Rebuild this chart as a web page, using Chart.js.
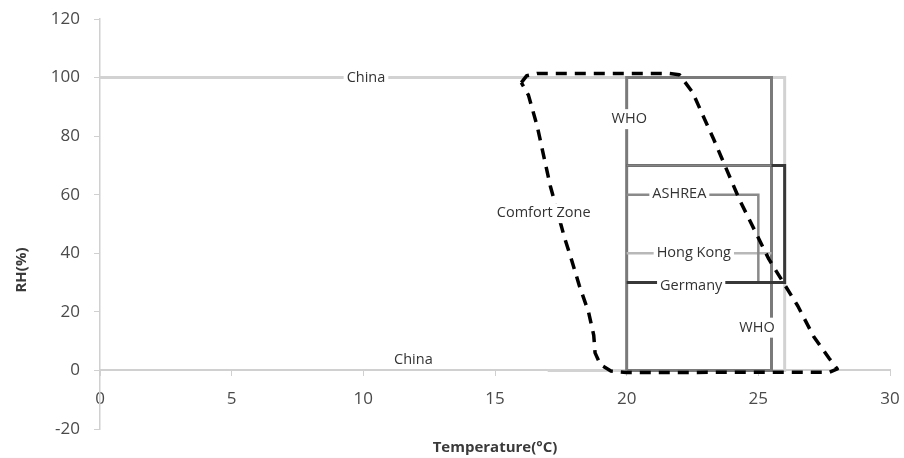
<!DOCTYPE html>
<html>
<head>
<meta charset="utf-8">
<script src="https://cdn.jsdelivr.net/npm/chart.js@4.4.1/dist/chart.umd.min.js"></script>
<style>
  html, body { margin: 0; padding: 0; background: #ffffff; }
  #wrap { width: 904px; height: 458px; position: relative; }
</style>
</head>
<body>
<div id="wrap"><canvas id="c"></canvas></div>
<script>
// ---- Data (temperature °C, relative humidity %) ----
const xTickValues = [0, 5, 10, 15, 20, 25, 30];
const yTickValues = [-20, 0, 20, 40, 60, 80, 100, 120];

const comfortT  = [16.0, 16.2, 16.6, 21.6, 22.0, 22.5, 23.3, 24.3, 25.4, 26.5, 27.1, 27.7, 28.0, 27.7, 20.0, 19.4, 19.0, 18.8, 18.75, 18.55, 18.2, 17.9, 17.65, 17.1, 16.6, 16.27, 16.0];
const comfortRH = [98.3, 100.6, 101.4, 101.4, 101, 95, 79, 58, 38, 22, 11.6, 4, 0.5, -0.6, -0.7, -0.2, 2, 6, 12, 20, 29, 38, 45, 63, 83.5, 94, 98.3];

const chinaT  = [0, 26, 26, 17];
const chinaRH = [100, 100, 0, 0];

const whoT  = [20, 20, 25.5, 25.5, 20];
const whoRH = [0, 100, 100, 0, 0];

const who70T  = [20, 25.5];
const who70RH = [70, 70];

const germanyT  = [20, 26, 26, 20];
const germanyRH = [30, 30, 70, 70];

const ashreaT  = [20, 25, 25];
const ashreaRH = [60, 60, 30];

const hongKongT  = [20, 25.5];
const hongKongRH = [40, 40];

// label texts and their anchor values (temperature, RH)
const labelTexts = ['China', 'China', 'WHO', 'WHO', 'Comfort Zone', 'ASHREA', 'Hong Kong', 'Germany'];
const labelT     = [10.1, 11.9, 20.1, 24.95, 16.85, 22.0, 22.55, 22.45];
const labelRH    = [100, 3.5, 85.8, 14.6, 53.7, 60.2, 40.3, 29];
const labelBoxed = [true, false, true, true, true, true, true, true];

function pts(xs, ys) { return xs.map((x, i) => ({ x: x, y: ys[i] })); }

const FONT = "'Open Sans', 'Liberation Sans', sans-serif";

const labelPlugin = {
  id: 'labels',
  afterDatasetsDraw(chart) {
    const ctx = chart.ctx;
    const xs = chart.scales.x, ys = chart.scales.y;
    ctx.save();
    ctx.font = '14.5px ' + FONT;
    ctx.textAlign = 'center';
    ctx.textBaseline = 'middle';
    labelTexts.forEach((t, i) => {
      const px = xs.getPixelForValue(labelT[i]);
      const py = ys.getPixelForValue(labelRH[i]);
      if (labelBoxed[i]) {
        const w = ctx.measureText(t).width + 6;
        ctx.fillStyle = '#ffffff';
        ctx.fillRect(px - w / 2, py - 10, w, 20);
      }
      ctx.fillStyle = '#333333';
      ctx.fillText(t, px, py);
    });
    ctx.restore();
  }
};

const yTitlePlugin = {
  id: 'yTitle',
  afterDraw(chart) {
    const ctx = chart.ctx;
    ctx.save();
    ctx.translate(22, 270);
    ctx.rotate(-Math.PI / 2);
    ctx.font = 'bold 15px ' + FONT;
    ctx.fillStyle = '#3a3a3a';
    ctx.textAlign = 'center';
    ctx.textBaseline = 'middle';
    ctx.fillText('RH(%)', 0, 0);
    ctx.restore();
  }
};

const line = (label, xs, ys, color, width, extra) => Object.assign({
  label: label,
  data: pts(xs, ys),
  showLine: true,
  borderColor: color,
  backgroundColor: color,
  borderWidth: width,
  pointRadius: 0,
  pointHoverRadius: 0,
  tension: 0,
  fill: false
}, extra || {});

new Chart(document.getElementById('c'), {
  type: 'scatter',
  data: {
    datasets: [
      line('Comfort Zone', comfortT, comfortRH, '#000000', 3.5, { borderDash: [11, 8], borderJoinStyle: 'round' }),
      line('WHO 70', who70T, who70RH, '#858585', 2.5),
      line('Germany', germanyT, germanyRH, '#383838', 3),
      line('ASHREA', ashreaT, ashreaRH, '#8a8a8a', 2.5),
      line('Hong Kong', hongKongT, hongKongRH, '#b8b8b8', 2.5),
      line('WHO', whoT, whoRH, '#7a7a7a', 3),
      line('China', chinaT, chinaRH, '#d2d2d2', 3)
    ]
  },
  options: {
    responsive: true,
    maintainAspectRatio: false,
    animation: false,
    layout: { padding: { top: 19, right: 14, bottom: 0, left: 0 } },
    plugins: {
      legend: { display: false },
      tooltip: { enabled: false }
    },
    scales: {
      x: {
        type: 'linear',
        min: 0, max: 30,
        position: { y: 0 },
        afterBuildTicks(s) { s.ticks = xTickValues.map(v => ({ value: v })); },
        afterFit(s) { s.paddingLeft = 0; s.paddingRight = 0; },
        grid: { drawOnChartArea: false, tickLength: 5, color: '#d0d0d0', lineWidth: 1 },
        border: { display: true, color: '#d0d0d0', width: 2 },
        ticks: { color: '#4a4a4a', font: { family: FONT, size: 17 }, padding: 14, maxRotation: 0 },
        title: { display: false }
      },
      x2: {
        type: 'linear',
        axis: 'x',
        min: 0, max: 30,
        position: 'bottom',
        grid: { display: false, drawTicks: false },
        border: { display: false },
        ticks: { display: false },
        title: {
          display: true,
          text: 'Temperature(°C)',
          color: '#3a3a3a',
          font: { family: FONT, size: 15, weight: 'bold' },
          padding: { top: 10, bottom: 1 }
        }
      },
      y: {
        type: 'linear',
        min: -20, max: 120,
        position: 'left',
        afterBuildTicks(s) { s.ticks = yTickValues.map(v => ({ value: v })); },
        afterFit(s) { s.width = 100; s.paddingTop = 0; s.paddingBottom = 0; },
        grid: { drawOnChartArea: false, tickLength: 6, color: '#d0d0d0', lineWidth: 1 },
        border: { display: true, color: '#d0d0d0', width: 1.5 },
        ticks: { color: '#4a4a4a', font: { family: FONT, size: 17 }, padding: 14 },
        title: { display: false }
      }
    }
  },
  plugins: [labelPlugin, yTitlePlugin]
});
</script>
</body>
</html>
